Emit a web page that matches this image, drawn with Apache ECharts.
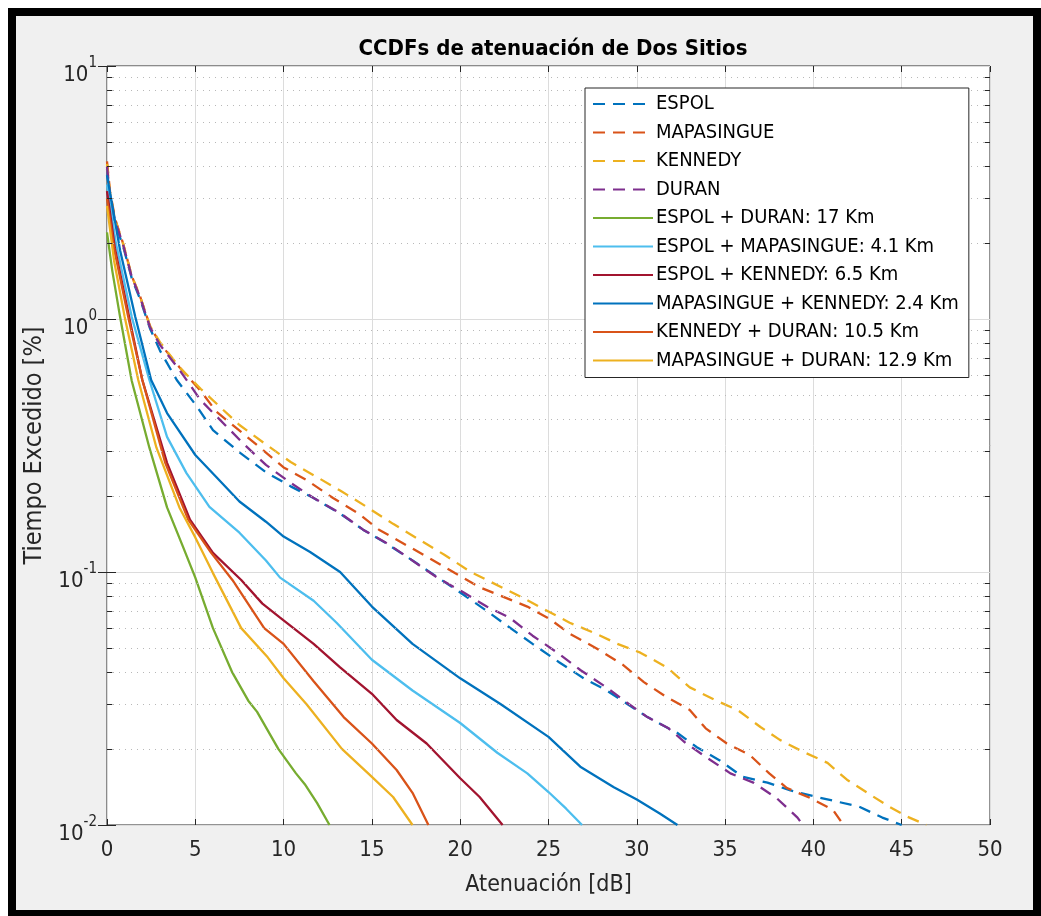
<!DOCTYPE html>
<html>
<head>
<meta charset="utf-8">
<script src="https://cdn.jsdelivr.net/npm/echarts@6/dist/echarts.min.js"></script>
<style>
html, body { margin: 0; padding: 0; background: #fff; }
#main { position: absolute; left: 0; top: 0; width: 1041px; height: 916px; }
#frame {
    position: absolute; left: 8px; top: 8px; width: 1017px; height: 894px;
    border-style: solid; border-color: #000; border-width: 8px 8px 6px 8px;
    box-shadow: 0 0 0 8px #fff; pointer-events: none;
}
</style>
</head>
<body>
<div id="main"></div>
<div id="frame"></div>
<script>
// curvas individuales (CCDF por sitio) [atenuacion dB, % tiempo]
var espol = [[0, 3.9], [0.17, 3.0], [0.45, 2.4], [0.9, 1.95], [1.4, 1.45], [1.87, 1.2], [2.43, 0.92], [3, 0.75], [3.95, 0.574], [5.1, 0.45], [6, 0.364], [7.5, 0.297], [9, 0.248], [10.4, 0.218], [11.7, 0.196], [13.2, 0.17], [14.5, 0.147], [15.8, 0.13], [17.3, 0.111], [20, 0.083], [21.4, 0.071], [22.7, 0.061], [24.1, 0.052], [25.6, 0.044], [27, 0.038], [28.3, 0.034], [30.6, 0.0267], [32.3, 0.0231], [33.4, 0.0203], [34.7, 0.018], [36, 0.0155], [37.4, 0.0147], [38.7, 0.0137], [40, 0.013], [41.5, 0.0123], [42.6, 0.0118], [43.9, 0.0107], [45, 0.01]];
var mapasingue = [[0, 4.2], [0.17, 3.2], [0.45, 2.5], [0.9, 2.0], [1.4, 1.48], [1.87, 1.23], [2.43, 0.94], [3, 0.8], [4.1, 0.645], [5.3, 0.52], [6.2, 0.43], [8.7, 0.309], [10, 0.259], [11.3, 0.231], [12.8, 0.196], [14.2, 0.171], [15.4, 0.147], [18.3, 0.113], [19.7, 0.099], [21.1, 0.087], [23.8, 0.073], [25.1, 0.065], [26.2, 0.057], [27.7, 0.05], [29.2, 0.043], [30.4, 0.0367], [31.7, 0.032], [33, 0.0285], [33.9, 0.0241], [35.1, 0.021], [36.4, 0.0189], [37.5, 0.016], [38.5, 0.014], [39.8, 0.0128], [41.1, 0.0115], [41.7, 0.01]];
var kennedy = [[0, 4.1], [0.17, 3.15], [0.45, 2.48], [0.9, 2.0], [1.4, 1.48], [1.87, 1.23], [2.43, 0.94], [3, 0.81], [4.1, 0.645], [5.3, 0.53], [7.5, 0.381], [8.9, 0.323], [10.4, 0.272], [11.9, 0.237], [13.2, 0.21], [14.7, 0.181], [16.2, 0.155], [19.1, 0.117], [20.6, 0.1], [23.4, 0.08], [26.2, 0.063], [27.7, 0.057], [28.9, 0.052], [30.2, 0.048], [31.7, 0.042], [33, 0.035], [34.5, 0.031], [35.7, 0.0285], [37, 0.0244], [38.1, 0.0217], [39.4, 0.0195], [40.8, 0.0176], [41.9, 0.0151], [43.2, 0.0132], [44.3, 0.0118], [45.3, 0.0108], [46.4, 0.01]];
var duran = [[0, 4.0], [0.17, 3.1], [0.45, 2.45], [0.9, 1.98], [1.4, 1.47], [1.87, 1.22], [2.43, 0.93], [3, 0.79], [4.1, 0.63], [5.3, 0.478], [7.7, 0.323], [9, 0.265], [10.4, 0.225], [11.7, 0.196], [13.2, 0.171], [14.5, 0.147], [16, 0.128], [18.7, 0.095], [20.2, 0.083], [21.5, 0.073], [22.8, 0.066], [24.1, 0.056], [25.5, 0.048], [26.8, 0.041], [28.3, 0.0349], [29.4, 0.0306], [30.6, 0.0267], [31.8, 0.0241], [32.8, 0.021], [34, 0.0184], [35.3, 0.016], [36.6, 0.0147], [37.9, 0.0128], [39.1, 0.0107], [39.4, 0.01]];

// combinaciones de dos sitios
var espolDuran = [[0, 2.2], [0.3, 1.55], [0.74, 1.02], [1.4, 0.57], [2.4, 0.31], [3.4, 0.18], [4.3, 0.126], [5, 0.095], [6, 0.06], [7.1, 0.04], [8, 0.031], [8.5, 0.028], [9.7, 0.02], [10.7, 0.016], [11.2, 0.0145], [11.9, 0.0122], [12.6, 0.01]];
var espolMapasingue = [[0, 3.4], [0.5, 2.0], [1.4, 1.02], [2.4, 0.574], [3.4, 0.342], [4.5, 0.246], [5.8, 0.181], [7.5, 0.143], [9, 0.111], [9.8, 0.095], [11.7, 0.077], [13, 0.063], [15, 0.045], [17.3, 0.034], [20, 0.0253], [22.1, 0.0193], [23.8, 0.016], [25, 0.0135], [26, 0.0116], [26.9, 0.01]];
var espolKennedy = [[0, 3.2], [0.45, 1.9], [1.25, 1.02], [2, 0.574], [3.4, 0.27], [4.7, 0.161], [6, 0.119], [7.6, 0.093], [8.8, 0.075], [9.8, 0.066], [11.7, 0.052], [13.2, 0.042], [15, 0.033], [16.4, 0.026], [18.1, 0.021], [20, 0.0153], [21.1, 0.0129], [22.4, 0.01]];
var mapasingueKennedy = [[0, 3.7], [0.74, 1.87], [1.6, 1.02], [2.5, 0.574], [3.4, 0.425], [5, 0.29], [6.2, 0.237], [7.5, 0.19], [9, 0.158], [10, 0.138], [11.5, 0.12], [13.2, 0.1], [15, 0.073], [17.3, 0.052], [20, 0.038], [22.3, 0.03], [25, 0.0223], [26.8, 0.017], [28.7, 0.0141], [30, 0.0126], [31.3, 0.0111], [32.3, 0.01]];
var kennedyDuran = [[0, 3.0], [0.4, 1.9], [1.2, 1.02], [2, 0.574], [3.3, 0.27], [4.6, 0.161], [5.9, 0.119], [7.1, 0.093], [8.9, 0.06], [10, 0.052], [11.7, 0.037], [13.4, 0.0267], [15, 0.021], [16.4, 0.0165], [17.3, 0.0134], [18.2, 0.01]];
var mapasingueDuran = [[0, 2.8], [0.4, 1.7], [1, 1.02], [1.77, 0.574], [2.8, 0.31], [4.1, 0.18], [5, 0.137], [6, 0.099], [7.6, 0.06], [9.1, 0.046], [10, 0.038], [11.3, 0.03], [13.3, 0.02], [15, 0.0155], [16.2, 0.0129], [17.3, 0.01]];

var seriesNames = ['ESPOL', 'MAPASINGUE', 'KENNEDY', 'DURAN',
    'ESPOL + DURAN: 17 Km', 'ESPOL + MAPASINGUE: 4.1 Km', 'ESPOL + KENNEDY: 6.5 Km',
    'MAPASINGUE + KENNEDY: 2.4 Km', 'KENNEDY + DURAN: 10.5 Km', 'MAPASINGUE + DURAN: 12.9 Km'];
var seriesData = [espol, mapasingue, kennedy, duran, espolDuran, espolMapasingue,
    espolKennedy, mapasingueKennedy, kennedyDuran, mapasingueDuran];
var seriesColors = ['#0072BD', '#D95319', '#EDB120', '#7E2F8E', '#77AC30', '#4DBEEE',
    '#A2142F', '#0072BD', '#D95319', '#EDB120'];
var dashed = [true, true, true, true, false, false, false, false, false, false];

var minorTicks = [0.02, 0.03, 0.04, 0.05, 0.06, 0.07, 0.08, 0.09,
    0.2, 0.3, 0.4, 0.5, 0.6, 0.7, 0.8, 0.9, 2, 3, 4, 5, 6, 7, 8, 9];

var fontNarrow = '"Liberation Sans Narrow", "DejaVu Sans Condensed", "Liberation Sans", sans-serif';
var axisColor = '#262626';

var chartDom = document.getElementById('main');
var myChart = echarts.init(chartDom);

// rejilla menor punteada y marcas menores del eje y
var minorLines = [];
var tickMarks = [];
minorTicks.forEach(function (v) {
    minorLines.push({ yAxis: v });
    tickMarks.push([{ coord: [0, v] }, { coord: [0.3, v] }]);
    tickMarks.push([{ coord: [49.7, v] }, { coord: [50, v] }]);
});

var series = [{
    type: 'line',
    name: 'rejilla',
    data: [],
    silent: true,
    markLine: {
        silent: true,
        symbol: 'none',
        label: { show: false },
        animation: false,
        lineStyle: { color: '#b8b8b8', type: [1, 5], width: 1 },
        data: minorLines
    }
}, {
    type: 'line',
    name: 'marcas',
    data: [],
    silent: true,
    z: 5,
    markLine: {
        silent: true,
        symbol: 'none',
        label: { show: false },
        animation: false,
        lineStyle: { color: axisColor, type: 'solid', width: 1 },
        data: tickMarks
    }
}];

seriesData.forEach(function (d, i) {
    series.push({
        type: 'line',
        name: seriesNames[i],
        data: d,
        showSymbol: false,
        symbol: 'none',
        animation: false,
        color: seriesColors[i],
        lineStyle: {
            color: seriesColors[i],
            width: 2.3,
            type: dashed[i] ? [12, 8] : 'solid'
        }
    });
});

var option = {
    backgroundColor: '#f0f0f0',
    animation: false,
    title: {
        text: 'CCDFs de atenuación de Dos Sitios',
        left: 548,
        top: 33,
        textAlign: 'center',
        textStyle: {
            fontFamily: fontNarrow,
            fontWeight: 'bold',
            fontSize: 22,
            color: '#000'
        }
    },
    legend: {
        data: seriesNames,
        orient: 'vertical',
        left: 585,
        top: 88,
        z: 10,
        itemWidth: 60,
        itemHeight: 14,
        itemGap: 8.5,
        padding: [6, 10, 7, 7],
        backgroundColor: '#fff',
        borderColor: axisColor,
        borderWidth: 1,
        borderRadius: 0,
        selectedMode: false,
        itemStyle: { opacity: 0 },
        textStyle: {
            fontFamily: fontNarrow,
            fontSize: 20,
            color: '#000',
            padding: [0, 0, 0, -2]
        }
    },
    grid: {
        left: 107,
        right: 51,
        top: 66,
        bottom: 91,
        show: true,
        backgroundColor: '#fff',
        borderColor: axisColor,
        borderWidth: 1
    },
    xAxis: [{
        type: 'value',
        min: 0,
        max: 50,
        interval: 5,
        name: 'Atenuación [dB]',
        nameLocation: 'middle',
        nameGap: 49,
        nameTextStyle: { fontFamily: fontNarrow, fontSize: 23, color: axisColor },
        axisLine: { show: false },
        axisTick: { show: true, inside: true, length: 6, lineStyle: { color: axisColor } },
        axisLabel: { margin: 14, fontFamily: fontNarrow, fontSize: 22, color: axisColor },
        splitLine: { show: true, lineStyle: { color: '#dcdcdc', width: 1 } }
    }, {
        type: 'value',
        position: 'top',
        min: 0,
        max: 50,
        interval: 5,
        axisLine: { show: false },
        axisTick: { show: true, inside: true, length: 6, lineStyle: { color: axisColor } },
        axisLabel: { show: false },
        splitLine: { show: false }
    }],
    yAxis: [{
        type: 'log',
        logBase: 10,
        min: 0.01,
        max: 10,
        interval: 1,
        name: 'Tiempo Excedido [%]',
        nameLocation: 'middle',
        nameGap: 44,
        nameTextStyle: { fontFamily: fontNarrow, fontSize: 25, color: axisColor },
        axisLine: { show: false },
        axisTick: { show: true, inside: true, length: 9, lineStyle: { color: axisColor } },
        axisLabel: {
            margin: 10,
            formatter: function (v) {
                var e = Math.round(Math.log10(v));
                return '{b|10}{s|' + e + '}';
            },
            rich: {
                b: { fontFamily: fontNarrow, fontSize: 22, color: axisColor, padding: [18, 0, 0, 0] },
                s: { fontFamily: fontNarrow, fontSize: 15, color: axisColor, padding: [0, 0, 6, 0] }
            }
        },
        splitLine: { show: true, lineStyle: { color: '#dcdcdc', width: 1 } }
    }, {
        type: 'log',
        logBase: 10,
        min: 0.01,
        max: 10,
        interval: 1,
        position: 'right',
        axisLine: { show: false },
        axisTick: { show: true, inside: true, length: 9, lineStyle: { color: axisColor } },
        axisLabel: { show: false },
        splitLine: { show: false }
    }],
    series: series
};

myChart.setOption(option);
</script>
</body>
</html>
